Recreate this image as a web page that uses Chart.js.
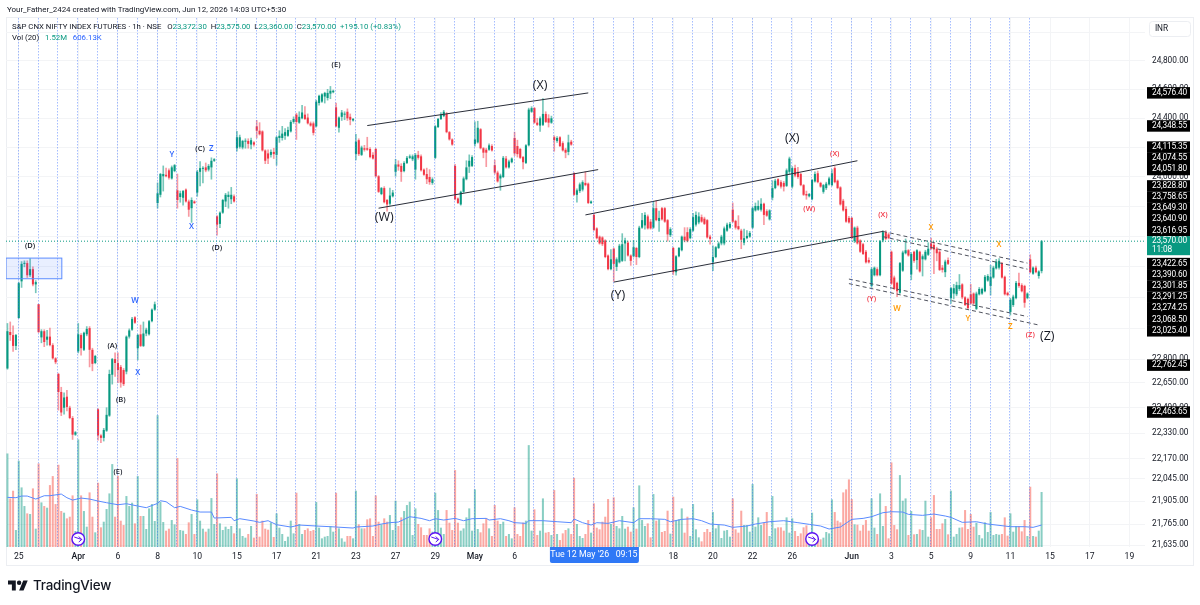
<!DOCTYPE html>
<html>
<head>
<meta charset="utf-8">
<title>S&amp;P CNX NIFTY INDEX FUTURES 1h</title>
<script src="https://cdn.jsdelivr.net/npm/chart.js@4/dist/chart.umd.min.js"></script>
<style>
    body { margin: 0; background: #fff; font-family: Roboto, sans-serif; color: #131722; }
    #wrap { position: relative; width: 1200px; height: 605px; overflow: hidden; }
    canvas { position: absolute; left: 0; top: 0; }
    .txt { position: absolute; white-space: pre; font-size: 7.8px; line-height: 12px; }
    .up { color: #089981; }
    .ma { color: #2962ff; }
    #brand { position: absolute; left: 33px; top: 577px; font: 500 13.4px Inter, sans-serif; color: #131722; letter-spacing: -0.2px; }
    #logo { position: absolute; left: 8px; top: 580px; }
</style>
</head>
<body>
<div id="wrap">
    <canvas id="chart" width="1200" height="605"></canvas>
    <div class="txt" style="left:7px;top:4px;font-size:7.95px">Your_Father_2424 created with TradingView.com, Jun 12, 2026 14:03 UTC+5:30</div>
    <div class="txt" style="left:12px;top:21px">S&amp;P CNX NIFTY INDEX FUTURES · 1h · NSE   O<span class="up">23,372.30</span>  H<span class="up">23,575.00</span>  L<span class="up">23,360.00</span>  C<span class="up">23,570.00</span>  <span class="up">+195.10 (+0.83%)</span></div>
    <div class="txt" style="left:12px;top:32px">Vol (20)   <span class="up">1.52M</span>   <span class="ma">606.13K</span></div>
    <svg id="logo" width="20" height="11" viewBox="0 4 36 18"><path fill="#131722" d="M14 22H7V11H0V4h14v18zM28 22h-8l7.5-18h8L28 22z"/><circle fill="#131722" cx="20" cy="8" r="4"/></svg>
    <div id="brand">TradingView</div>
</div>

<script>
// ========================= //
//        Price candles      //
// ========================= //
const opens = [
    22740,22975,22955,22885,23065,23305,23420,23425,23345,23385,
    23285,23155,22940,22980,22925,22945,22890,22805,22705,22590,
    22490,22560,22490,22425,22320,22850,22955,22860,22960,23000,
    22860,22775,22480,22315,22300,22345,22440,22700,22800,22775,
    22750,22730,22720,22945,22990,23070,22870,22960,22885,22965,
    22960,23045,23120,23825,23880,24005,24015,24045,23990,24040,
    23910,23865,23860,23915,23835,23790,23835,23895,24035,24055,
    24065,24050,24065,24110,23735,23685,23760,23835,23865,23850,
    23870,24195,24205,24200,24240,24245,24220,24235,24345,24315,
    24310,24180,24160,24150,24170,24150,24265,24265,24280,24280,
    24310,24375,24425,24370,24400,24425,24405,24365,24365,24345,
    24505,24515,24550,24540,24570,24580,24475,24335,24410,24425,
    24445,24410,24385,24155,24250,24150,24195,24195,24190,24150,
    24190,24005,23885,23925,23845,23820,23870,24035,24085,24075,
    24040,24095,24130,24120,24050,24150,24140,24050,24020,24000,
    23960,24130,24340,24395,24415,24430,24305,24255,24075,23855,
    23815,23900,23985,24070,24075,24225,24235,24325,24195,24185,
    24185,24210,24080,24030,23990,24000,24125,24065,24100,24265,
    24210,24190,24135,24095,24215,24445,24470,24370,24350,24355,
    24430,24400,24370,24270,24245,24270,24230,24185,24170,24240,
    24025,23880,23905,23915,23960,23955,23825,23745,23655,23600,
    23595,23575,23475,23385,23520,23400,23430,23440,23555,23560,
    23475,23470,23525,23465,23660,23675,23735,23700,23660,23790,
    23705,23790,23790,23710,23610,23525,23365,23470,23510,23600,
    23630,23590,23640,23680,23695,23730,23720,23710,23600,23430,
    23465,23525,23555,23555,23640,23660,23780,23705,23670,23640,
    23560,23590,23600,23660,23775,23780,23780,23820,23770,23715,
    23860,23925,23985,23965,23960,23940,24035,23935,24060,24035,
    24020,23945,23885,23870,23850,23970,24025,23960,23900,23925,
    23950,23945,24060,23975,23930,23840,23785,23725,23725,23570,
    23660,23575,23550,23500,23445,23275,23345,23385,23345,23575,
    23630,23615,23500,23330,23295,23230,23375,23490,23510,23350,
    23500,23445,23500,23450,23450,23480,23555,23545,23520,23500,
    23395,23365,23445,23195,23225,23220,23255,23285,23200,23190,
    23220,23225,23125,23220,23225,23240,23310,23275,23330,23390,
    23395,23425,23335,23230,23105,23150,23195,23295,23280,23275,
    23195,23450,23355,23395,23340,23372.3
];
const highs = [
    23030,23040,23015,22960,23300,23435,23440,23440,23455,23400,
    23310,23155,22990,22990,22985,23000,22900,22810,22710,22620,
    22585,22600,22500,22435,22340,23030,22965,22975,23010,23010,
    22870,22825,22485,22320,22360,22490,22730,22805,22840,22840,
    22760,22740,22950,22995,23070,23075,22960,23020,23040,23000,
    23050,23125,23170,23960,24025,24075,24060,24055,24075,24085,
    24020,23905,23910,23920,23845,23860,23840,24045,24105,24070,
    24095,24085,24130,24125,23740,23765,23850,23890,23900,23930,
    23880,24310,24285,24250,24260,24260,24265,24240,24385,24370,
    24315,24185,24185,24185,24195,24275,24315,24345,24330,24340,
    24385,24410,24435,24445,24490,24480,24430,24375,24375,24525,
    24560,24570,24580,24600,24620,24595,24505,24410,24455,24445,
    24465,24430,24400,24290,24260,24210,24215,24270,24200,24165,
    24195,24010,23930,23935,23850,23925,23910,24120,24110,24090,
    24105,24140,24150,24150,24160,24175,24150,24055,24060,24050,
    23995,24350,24400,24440,24455,24440,24310,24260,24085,23860,
    23905,24000,24110,24150,24145,24375,24380,24330,24200,24195,
    24225,24220,24115,24040,24020,24140,24140,24115,24130,24305,
    24250,24195,24140,24220,24470,24480,24475,24400,24410,24535,
    24445,24425,24415,24280,24275,24275,24240,24195,24285,24250,
    24030,23920,23960,23975,24035,23960,23840,23755,23660,23605,
    23600,23580,23480,23515,23525,23460,23550,23620,23590,23570,
    23480,23575,23530,23670,23755,23760,23745,23715,23835,23840,
    23770,23795,23795,23715,23660,23530,23475,23530,23605,23660,
    23660,23660,23755,23765,23760,23745,23730,23715,23610,23540,
    23535,23565,23610,23665,23690,23695,23825,23710,23740,23650,
    23650,23640,23635,23800,23825,23840,23855,23825,23780,23780,
    23975,23985,23990,23975,23970,24055,24135,24070,24080,24065,
    24025,23950,23905,23890,23985,24035,24040,23965,23950,23965,
    24000,24050,24070,23980,23935,23850,23800,23735,23730,23665,
    23670,23580,23555,23510,23460,23395,23400,23395,23575,23640,
    23640,23625,23505,23340,23300,23430,23505,23585,23515,23495,
    23505,23515,23505,23480,23510,23560,23590,23560,23530,23510,
    23410,23445,23460,23265,23285,23300,23350,23290,23205,23195,
    23285,23230,23235,23265,23260,23345,23350,23410,23405,23450,
    23455,23430,23340,23235,23195,23215,23305,23360,23290,23280,
    23230,23480,23400,23405,23375,23575
];
const lows = [
    22735,22920,22850,22860,23065,23265,23400,23330,23335,23275,
    23230,22970,22905,22880,22890,22885,22800,22770,22475,22440,
    22450,22470,22420,22290,22315,22840,22825,22855,22950,22750,
    22725,22770,22285,22270,22280,22340,22435,22640,22690,22650,
    22620,22630,22705,22935,22985,23030,22795,22880,22880,22950,
    22955,23040,23115,23790,23865,23905,24000,23985,23985,24035,
    23790,23830,23810,23830,23735,23695,23820,23870,23940,23960,
    24035,24040,23985,24105,23610,23660,23755,23800,23790,23820,
    23830,24175,24195,24190,24195,24195,24190,24210,24265,24285,
    24175,24090,24090,24135,24125,24080,24235,24250,24255,24275,
    24305,24365,24255,24365,24395,24390,24360,24345,24285,24340,
    24490,24510,24505,24525,24535,24575,24340,24305,24385,24390,
    24385,24355,24380,24115,24145,24145,24175,24180,24130,24120,
    24000,23895,23880,23825,23770,23810,23865,24005,24045,23970,
    24035,24090,24125,24110,23985,24120,24040,24010,23955,23950,
    23950,24125,24335,24390,24410,24300,24250,24215,23845,23820,
    23810,23895,23980,24030,24070,24210,24230,24190,24130,24070,
    24180,24175,24020,23965,23910,23995,24060,24060,24095,24145,
    24135,24125,24055,24090,24210,24440,24365,24350,24310,24350,
    24370,24340,24365,24175,24235,24205,24175,24130,24150,24215,
    23875,23830,23895,23905,23940,23820,23820,23640,23585,23550,
    23540,23460,23380,23380,23305,23375,23425,23435,23440,23470,
    23410,23465,23415,23460,23655,23650,23650,23650,23655,23705,
    23635,23710,23695,23570,23600,23350,23345,23465,23505,23565,
    23565,23585,23635,23670,23685,23695,23680,23590,23550,23375,
    23460,23520,23545,23545,23635,23655,23695,23650,23645,23520,
    23545,23585,23595,23655,23770,23775,23770,23680,23735,23710,
    23845,23920,23940,23925,23905,23935,24020,23925,24000,23990,
    23940,23875,23850,23865,23845,23965,23960,23930,23890,23915,
    23945,23940,23960,23920,23810,23770,23695,23690,23585,23560,
    23550,23495,23480,23425,23425,23265,23340,23340,23340,23565,
    23580,23585,23285,23250,23205,23225,23370,23485,23470,23315,
    23430,23385,23365,23340,23445,23475,23515,23355,23440,23375,
    23365,23335,23415,23160,23190,23210,23245,23190,23145,23125,
    23155,23155,23120,23215,23220,23235,23305,23215,23325,23385,
    23385,23325,23215,23210,23085,23140,23190,23265,23235,23135,
    23190,23360,23350,23360,23325,23360
];
const closes = [
    22980,22955,22885,22955,23293,23420,23425,23345,23385,23285,
    23300,22975,22980,22910,22945,22890,22805,22780,22590,22460,
    22555,22495,22425,22320,22335,22960,22870,22970,22995,22860,
    22770,22820,22315,22300,22350,22445,22705,22800,22775,22730,
    22650,22640,22945,22985,23060,23035,22955,22885,22965,22990,
    23045,23120,23155,23890,24020,24020,24005,23995,24065,24080,
    23845,23890,23905,23835,23780,23845,23825,24035,24060,24060,
    24045,24075,24110,24120,23680,23760,23845,23880,23880,23880,
    23835,24270,24270,24245,24245,24225,24250,24220,24315,24290,
    24180,24110,24125,24170,24155,24270,24280,24295,24305,24320,
    24375,24395,24375,24410,24440,24395,24365,24350,24300,24515,
    24555,24565,24575,24575,24590,24590,24345,24405,24440,24430,
    24400,24390,24395,24240,24155,24200,24185,24185,24135,24125,
    24005,23900,23925,23830,23815,23875,23895,24085,24070,24035,
    24095,24130,24140,24140,24150,24130,24045,24015,23985,23965,
    23985,24345,24395,24425,24445,24305,24255,24220,23850,23825,
    23900,23990,24065,24110,24135,24255,24335,24195,24165,24165,
    24215,24180,24030,23970,24010,24130,24065,24105,24125,24160,
    24155,24130,24100,24215,24460,24470,24370,24355,24400,24430,
    24375,24370,24400,24250,24265,24210,24180,24165,24235,24220,
    23880,23910,23950,23965,23945,23825,23835,23645,23590,23555,
    23550,23465,23385,23450,23420,23450,23540,23550,23575,23475,
    23440,23530,23465,23660,23710,23745,23655,23655,23790,23710,
    23725,23715,23700,23615,23650,23365,23470,23525,23600,23575,
    23570,23650,23730,23745,23735,23700,23685,23595,23585,23465,
    23530,23555,23600,23655,23680,23685,23700,23660,23650,23580,
    23590,23605,23625,23790,23805,23805,23820,23745,23740,23775,
    23925,23975,23945,23935,23935,24045,24125,24060,24010,24000,
    23945,23880,23875,23885,23980,24020,23965,23935,23945,23955,
    23990,24025,23965,23925,23815,23775,23700,23695,23590,23660,
    23555,23500,23485,23430,23430,23385,23395,23345,23570,23630,
    23585,23590,23290,23255,23240,23425,23495,23510,23475,23485,
    23440,23510,23370,23470,23500,23520,23520,23515,23490,23380,
    23380,23435,23420,23260,23260,23280,23280,23200,23150,23130,
    23160,23160,23225,23255,23255,23335,23340,23335,23395,23435,
    23440,23330,23220,23215,23185,23205,23295,23275,23240,23165,
    23225,23365,23395,23365,23370,23570
];

// ========================= //
//     Volume, in thousands  //
// ========================= //
const volumes = [
    2585,1343,1555,469,2383,1647,1132,929,911,1619,
    506,2309,1233,1132,1086,1711,1960,1187,2272,994,
    948,791,837,1426,442,2972,1426,994,561,1509,
    837,405,1776,543,699,1049,1481,2291,837,1969,
    727,607,1408,1132,1224,653,1960,856,856,497,
    1067,1187,718,3643,1251,690,451,506,745,626,
    2456,469,451,359,681,911,359,1316,727,506,
    423,506,1352,635,2033,653,469,561,497,580,
    377,1895,515,304,258,359,580,258,1463,285,
    727,506,478,681,276,929,534,359,166,285,
    727,377,1500,635,359,469,515,442,469,1242,
    534,239,285,304,580,423,1500,515,239,147,
    304,304,239,1555,626,515,515,764,791,304,
    1426,699,626,791,699,883,469,1279,580,819,
    994,1159,1251,331,1067,635,543,331,331,515,
    423,1500,1021,534,359,1021,672,469,2125,672,
    451,515,819,1067,451,1592,497,405,653,791,
    515,304,1159,727,635,699,304,359,239,1095,
    359,304,672,727,2815,451,1040,331,451,1343,
    396,414,331,1573,359,193,377,469,515,359,
    1914,635,304,248,359,745,396,1205,534,488,
    699,837,1325,635,1371,580,515,856,506,561,
    423,1095,506,1702,745,580,653,267,1463,727,
    764,414,442,1003,368,1389,727,764,1067,396,
    837,304,1187,488,267,156,414,497,414,966,
    515,607,248,451,469,285,1343,488,396,1003,
    607,607,423,1739,561,819,607,672,966,304,
    1408,515,543,543,451,819,396,791,442,304,
    377,543,598,304,948,193,212,212,258,414,
    377,1316,966,727,681,1509,1592,1868,1325,626,
    616,451,607,745,451,1343,534,359,1481,580,
    1132,239,2337,607,488,1987,1279,1343,331,994,
    350,359,488,469,1279,285,819,1435,497,497,
    653,773,350,1555,285,359,534,543,1021,497,
    911,561,672,331,239,681,414,966,331,359,
    340,359,819,313,929,423,580,580,432,745,
    304,1665,304,285,451,1520
];

// Vol 20 moving average, sampled along its path
const maBars = [
    0,3,5,7,10,13,15,19,21,23,26,29,32,35,39,42,46,49,53,54,56,59,61,65,68,72,73,79,80,82,87,89,92,95,100,103,109,114,122,123,129,132,135,138,
    142,146,149,151,154,158,161,164,169,170,174,177,179,183,184,189,194,199,200,203,206,208,212,216,221,223,227,232,234,238,242,245,248,253,256,261,264,269,274,279,
    283,287,290,294,298,302,305,309,312,316,318,323,327,331,333,337,342,346,354,359,362,365
];
const maValues = [
    1371,1362,1408,1408,1325,1417,1417,1463,1362,1297,1352,1325,1270,1224,1168,1196,1132,1086,1205,1279,1251,1086,1122,1021,966,966,800,819,727,782,718,681,727,616,552,607,580,561,524,552,580,635,672,690,
    837,791,727,782,745,791,727,782,791,745,782,727,672,653,727,727,699,672,773,672,607,672,653,727,672,782,782,764,699,764,782,727,635,607,543,580,635,699,727,672,
    626,580,497,552,764,791,837,948,975,966,902,874,911,856,819,681,699,635,561,561,543,606.13
];

// ========================= //
//        Axis contents      //
// ========================= //
const xTickBars = [4,25,39,53,67,81,95,109,123,137,151,165,179,193,207,221,235,249,263,277,298,312,326,340,354,368,382,396];
const xTickLabels = ["25","Apr","6","8","10","15","17","21","23","27","29","May","6","8","12","14","18","20","22","26","Jun","3","5","9","11","15","17","19"];
const monthLabels = ["Apr","May","Jun"];
const priceTicks = [25000,24800,24600,24400,24200,24000,23800,23600,23400,23200,23000,22800,22650,22490,22330,22170,22045,21905,21765,21635];
const drawingPrices = [24576.40,24348.55,24115.35,24074.55,24051.80,23828.80,23758.65,23649.30,23640.90,23616.95,23422.65,23390.60,23301.85,23291.25,23274.25,23068.50,23025.40,22762.45,22463.65];
const lastPrice = 23570;
const countdown = "11:08";
const crosshairBar = 207;
const crosshairLabel = "Tue 12 May '26   09:15";

// vertical markers at each session open
const sessionLines = [4,11,18,25,32,39,46,53,60,67,74,81,88,95,102,109,116,123,130,137,144,151,158,165,172,179,186,193,200,207,214,221,228,235,242,249,256,263,270,277,284,291,298,305,312,319,326,333,340,347,354,361];
const earningsBars = [25,151,284];

// ========================= //
//         Drawings          //
// ========================= //
const zoneBars = [-0.5,19.2];
const zonePrices = [23458,23322];

const channelTopA = [{x:127,y:24350},{x:205,y:24575}];
const channelBottomA = [{x:131,y:23790},{x:208.5,y:24050}];
const channelTopB = [{x:204,y:23745},{x:300,y:24110}];
const channelBottomB = [{x:214,y:23300},{x:309,y:23635}];
const dashTopOuter = [{x:309,y:23635},{x:360,y:23425}];
const dashTopInner = [{x:309,y:23600},{x:360,y:23385}];
const dashBottomOuter = [{x:297,y:23320},{x:360,y:23075}];
const dashBottomInner = [{x:297,y:23290},{x:364,y:23020}];

const waveBlack = "#131722", waveBlue = "#2962ff", waveRed = "#f23645", waveOrange = "#ff9800";
const waveText = ["(D)","(E)","(A)","(B)","(C)","(D)","(E)","W","X","Y","Z","X","(W)","(X)","(Y)","(X)","(Z)","(X)","(W)","(X)","(Y)","(Z)","X","X","W","Y","Z"];
const waveBar = [8,39,37,40,68,74,116,45,46,58,72,65,133,188,215.5,277,367,292,283,309,305,361,326,350,314,339,354];
const wavePrice = [23537,22086,22885,22540,24190,23525,24770,23175,22710,24150,24195,23665,23725,24629,23215,24264,22948,24155,23784,23745,23190,22955,23657,23544,23123,23059,23006];
const waveColor = [waveBlack,waveBlack,waveBlack,waveBlack,waveBlack,waveBlack,waveBlack,waveBlue,waveBlue,waveBlue,waveBlue,waveBlue,waveBlack,waveBlack,waveBlack,waveBlack,waveBlack,waveRed,waveRed,waveRed,waveRed,waveRed,waveOrange,waveOrange,waveOrange,waveOrange,waveOrange];
const waveSize = [7.5,7.5,7.5,7.5,7.5,7.5,7.5,8,8,8,8,8,12.5,12.5,12.5,12.5,12.5,7.5,7.5,7.5,7.5,7.5,8,8,8,8,8];

const UP = "#089981", DOWN = "#f23645";
const UP_WICK = "rgba(8,153,129,0.55)", DOWN_WICK = "rgba(242,54,69,0.5)";
const UP_VOL = "rgba(8,153,129,0.48)", DOWN_VOL = "rgba(247,82,70,0.5)";
const FONT = 'Roboto, sans-serif';
const WAVE_FONT = '"Open Sans", sans-serif';
const isUp = i => closes[i] >= opens[i];

function fmt(v) {
    return v.toLocaleString("en-US", { minimumFractionDigits: 2, maximumFractionDigits: 2 });
}

function roundBox(ctx, x, y, w, h, r) {
    ctx.beginPath();
    ctx.roundRect(x, y, w, h, r);
}

// Panel frame under everything else
const framePlugin = {
    id: "frame",
    beforeDraw(chart) {
        const ctx = chart.ctx;
        ctx.save();
        ctx.fillStyle = "#fff";
        ctx.fillRect(0, 0, 1200, 605);
        ctx.strokeStyle = "#eceef2";
        ctx.lineWidth = 1;
        ctx.strokeRect(6.5, 17.5, 1187, 548);
        ctx.restore();
    }
};

// Session lines, zone, wave labels, price labels and the crosshair tag
const overlayPlugin = {
    id: "overlay",
    afterDatasetsDraw(chart) {
        const ctx = chart.ctx;
        const x = chart.scales.x, y = chart.scales.y;
        const area = chart.chartArea;

        ctx.save();
        ctx.beginPath();
        ctx.rect(area.left, area.top, area.right - area.left, area.bottom - area.top);
        ctx.clip();

        // session lines
        ctx.strokeStyle = "rgba(41,98,255,0.42)";
        ctx.lineWidth = 1;
        ctx.setLineDash([1.5, 1.5]);
        sessionLines.forEach(b => {
            const px = Math.round(x.getPixelForValue(b)) - 0.5;
            ctx.beginPath();
            ctx.moveTo(px, area.top);
            ctx.lineTo(px, area.bottom);
            ctx.stroke();
        });

        // last price line
        const lastY = y.getPixelForValue(lastPrice);
        ctx.strokeStyle = UP;
        ctx.setLineDash([1, 2]);
        ctx.beginPath();
        ctx.moveTo(area.left, lastY);
        ctx.lineTo(area.right, lastY);
        ctx.stroke();
        ctx.setLineDash([]);

        // zone box
        const zx0 = x.getPixelForValue(zoneBars[0]), zx1 = x.getPixelForValue(zoneBars[1]);
        const zy0 = y.getPixelForValue(zonePrices[0]), zy1 = y.getPixelForValue(zonePrices[1]);
        ctx.fillStyle = "rgba(41,98,255,0.1)";
        ctx.fillRect(zx0, zy0, zx1 - zx0, zy1 - zy0);
        ctx.strokeStyle = "#5b8cff";
        ctx.strokeRect(zx0, zy0, zx1 - zx0, zy1 - zy0);

        // wave labels
        ctx.textAlign = "center";
        ctx.textBaseline = "middle";
        waveText.forEach((t, i) => {
            const big = waveSize[i] > 10;
            ctx.font = (big ? "400 " : "600 ") + waveSize[i] + "px " + WAVE_FONT;
            ctx.fillStyle = waveColor[i];
            ctx.fillText(t, x.getPixelForValue(waveBar[i]), y.getPixelForValue(wavePrice[i]));
        });

        // event markers along the bottom
        earningsBars.forEach(b => {
            const cx = x.getPixelForValue(b), cy = area.bottom - 8;
            ctx.beginPath();
            ctx.arc(cx, cy, 6.3, 0, Math.PI * 2);
            ctx.fillStyle = "#fff";
            ctx.fill();
            ctx.strokeStyle = "#5a12f2";
            ctx.lineWidth = 1.4;
            ctx.stroke();
            ctx.beginPath();
            ctx.moveTo(cx - 4, cy - 2);
            ctx.lineTo(cx + 3.5, cy + 0.5);
            ctx.moveTo(cx + 0.5, cy - 2.5);
            ctx.lineTo(cx + 3.5, cy + 0.5);
            ctx.lineTo(cx + 0.5, cy + 3);
            ctx.lineWidth = 1;
            ctx.stroke();
        });
        ctx.restore();

        drawPriceTags(chart);
        drawCrosshairTag(chart);
    }
};

// Price tags stack away from the teal last price tag when they collide
function drawPriceTags(chart) {
    const ctx = chart.ctx;
    const y = chart.scales.y;
    const h = 11.2;
    const lastTop = y.getPixelForValue(lastPrice) - 5;
    const lastBottom = lastTop + 19;

    const above = drawingPrices.filter(p => p > lastPrice).sort((a, b) => a - b);
    const below = drawingPrices.filter(p => p < lastPrice).sort((a, b) => b - a);
    const tags = [];

    let limit = lastTop - h / 2;
    above.forEach(p => {
        const py = Math.min(y.getPixelForValue(p), limit);
        tags.push({ p, py });
        limit = py - h;
    });
    limit = lastBottom + h / 2;
    below.forEach(p => {
        const py = Math.max(y.getPixelForValue(p), limit);
        tags.push({ p, py });
        limit = py + h;
    });

    ctx.save();
    ctx.font = "8.3px " + FONT;
    ctx.letterSpacing = "-0.15px";
    ctx.textAlign = "left";
    ctx.textBaseline = "middle";
    tags.forEach(t => {
        ctx.fillStyle = "#000";
        ctx.fillRect(1147, t.py - h / 2, 43, h + 0.3);
        ctx.fillStyle = "#fff";
        ctx.fillText(fmt(t.p), 1152, t.py);
    });

    ctx.fillStyle = UP;
    ctx.fillRect(1147, lastTop, 43, 19);
    ctx.fillStyle = "#fff";
    ctx.fillText(fmt(lastPrice), 1152, lastTop + 5);
    ctx.fillText(countdown, 1152, lastTop + 14);

    // currency button
    roundBox(ctx, 1149.5, 21.5, 41, 15, 3);
    ctx.fillStyle = "#fff";
    ctx.fill();
    ctx.strokeStyle = "#eceef2";
    ctx.stroke();
    ctx.fillStyle = "#131722";
    ctx.fillText("INR", 1155, 29);
    ctx.restore();
}

function drawCrosshairTag(chart) {
    const ctx = chart.ctx;
    const px = chart.scales.x.getPixelForValue(crosshairBar);
    const top = chart.chartArea.bottom;
    ctx.save();
    roundBox(ctx, px - 44, top, 89, 16, [0, 0, 2, 2]);
    ctx.fillStyle = "#2f78f6";
    ctx.fill();
    ctx.fillStyle = "#fff";
    ctx.font = "8.8px " + FONT;
    ctx.textAlign = "center";
    ctx.textBaseline = "middle";
    ctx.fillText(crosshairLabel, px, top + 8);
    ctx.restore();
}

function trendDataset(points, dashed) {
    return {
        type: "line",
        data: points,
        borderColor: dashed ? "#50535e" : "#2a2e39",
        borderWidth: 1,
        borderDash: dashed ? [4, 3] : [],
        pointRadius: 0,
        yAxisID: "y",
        order: 0
    };
}

new Chart(document.getElementById("chart").getContext("2d"), {
    type: "bar",
    data: {
        datasets: [
            trendDataset(channelTopA, false),
            trendDataset(channelBottomA, false),
            trendDataset(channelTopB, false),
            trendDataset(channelBottomB, false),
            trendDataset(dashTopOuter, true),
            trendDataset(dashTopInner, true),
            trendDataset(dashBottomOuter, true),
            trendDataset(dashBottomInner, true),
            {
                // candle bodies
                data: opens.map((o, i) => ({ x: i, y: [o, closes[i]] })),
                backgroundColor: c => isUp(c.dataIndex) ? UP : DOWN,
                yAxisID: "y",
                grouped: false,
                categoryPercentage: 1,
                barPercentage: 0.72,
                minBarLength: 1,
                order: 1
            },
            {
                // candle wicks
                data: opens.map((o, i) => ({ x: i, y: [lows[i], highs[i]] })),
                backgroundColor: c => isUp(c.dataIndex) ? UP_WICK : DOWN_WICK,
                yAxisID: "y",
                grouped: false,
                categoryPercentage: 1,
                barPercentage: 1,
                maxBarThickness: 1,
                order: 2
            },
            {
                type: "line",
                data: maBars.map((b, i) => ({ x: b, y: maValues[i] })),
                borderColor: "#5a8bff",
                borderWidth: 1,
                pointRadius: 0,
                yAxisID: "vol",
                order: 3
            },
            {
                data: volumes.map((v, i) => ({ x: i, y: v })),
                backgroundColor: c => isUp(c.dataIndex) ? UP_VOL : DOWN_VOL,
                yAxisID: "vol",
                grouped: false,
                categoryPercentage: 1,
                barPercentage: 0.72,
                order: 4
            }
        ]
    },
    options: {
        responsive: false,
        animation: false,
        events: [],
        layout: { padding: { left: 6, top: 18, right: 7, bottom: 40 } },
        plugins: { legend: { display: false }, tooltip: { enabled: false } },
        scales: {
            x: {
                type: "linear",
                offset: false,
                min: -0.5,
                max: 401.5,
                afterBuildTicks: s => { s.ticks = xTickBars.map(v => ({ value: v })); },
                afterFit: s => { s.height = 18; },
                grid: { offset: false, color: "#f3f4f6", drawTicks: false },
                border: { display: false },
                ticks: {
                    autoSkip: false,
                    maxRotation: 0,
                    padding: 5,
                    color: "#131722",
                    font: c => ({
                        family: FONT,
                        size: 8.6,
                        weight: c.tick && monthLabels.includes(xTickLabels[xTickBars.indexOf(c.tick.value)]) ? "500" : "400"
                    }),
                    callback: v => xTickLabels[xTickBars.indexOf(v)]
                }
            },
            y: {
                type: "logarithmic",
                position: "right",
                min: 21625,
                max: 25099,
                afterBuildTicks: s => { s.ticks = priceTicks.map(v => ({ value: v })); },
                afterFit: s => { s.width = 48; },
                grid: { color: "#f3f4f6", drawTicks: false },
                border: { display: false },
                ticks: {
                    autoSkip: false,
                    padding: 7,
                    color: "#131722",
                    font: { family: FONT, size: 8.3 },
                    callback: v => fmt(v)
                }
            },
            vol: {
                type: "linear",
                display: false,
                min: 0,
                max: 14619
            }
        }
    },
    plugins: [framePlugin, overlayPlugin]
});
</script>
</body>
</html>
